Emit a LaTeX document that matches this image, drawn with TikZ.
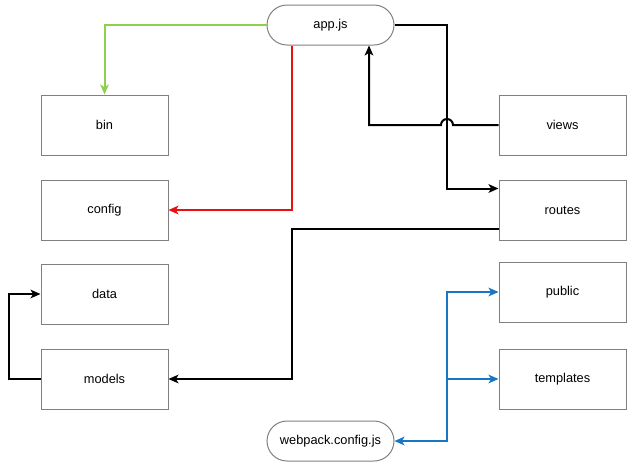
\documentclass[tikz,border=0pt]{standalone}
\usepackage{fontspec}
\setmainfont{Liberation Sans}
\usetikzlibrary{arrows.meta,positioning}
\definecolor{lnkgreen}{RGB}{141,207,80}
\definecolor{lnkred}{RGB}{232,16,16}
\definecolor{lnkblue}{RGB}{24,118,198}
\definecolor{boxgray}{RGB}{128,128,128}

\begin{document}
\begin{tikzpicture}[
    x=0.75pt, y=-0.75pt,
    font=\fontsize{9.6}{11}\selectfont,
    dir/.style={draw=boxgray, line width=0.75pt, minimum width=95.25pt, minimum height=45pt, inner sep=0pt},
    file/.style={dir, minimum height=30pt, rounded corners=15pt},
    tip/.style={Stealth[length=7.5pt,width=6.5pt,inset=2pt]},
    link/.style={line width=1.5pt, -{Stealth[length=7.5pt,width=6.5pt,inset=2pt]}},
    ]
    \useasboundingbox (0,0) rectangle (633,469);
    % junction columns
    \coordinate (c1) at (292,0);
    \coordinate (c2) at (369,0);
    \coordinate (c3) at (447,0);
    \coordinate (c4) at (9,0);
    % files
    \node[file] (app) at (330.5,25) {app.js};
    \node[file] (webpack) at (330.5,441) {webpack.config.js};
    % folders left
    \node[dir] (bin) at (104.5,125) {bin};
    \node[dir] (config) at (104.5,210) {config};
    \node[dir] (data) at (104.5,294) {data};
    \node[dir] (models) at (104.5,379) {models};
    % folders right
    \node[dir] (views) at (562.5,125) {views};
    \node[dir] (routes) at (562.5,210) {routes};
    \node[dir] (public) at (562.5,292) {public};
    \node[dir] (templates) at (562.5,379) {templates};
    \coordinate (rin) at ([yshift=-6.75pt]routes.north west);
    \coordinate (rout) at ([yshift=9pt]routes.south west);
    \coordinate (hub) at (c3 |- templates.west);
    % links
    \draw[link, lnkgreen] (app.west) -| (bin.north);
    \draw[link, lnkred] (app.south -| c1) |- (config.east);
    \draw[link] (app.east) -| (c3 |- rin) -- (rin);
    \draw[link] (views.west) -- ([xshift=4.5pt]c3 |- views.west)
        arc[start angle=0, end angle=180, radius=4.5pt] -| (app.south -| c2);
    \draw[link] (rout) -| (c1 |- models.east) -- (models.east);
    \draw[link] (models.west) -- (c4 |- models.west) |- (data.west);
    \draw[link, lnkblue, {Stealth[length=7.5pt,width=6.5pt,inset=2pt]}-{Stealth[length=7.5pt,width=6.5pt,inset=2pt]}] (webpack.east) -| (c3 |- public.west) -- (public.west);
    \draw[link, lnkblue] (hub) -- (templates.west);
\end{tikzpicture}
\end{document}
